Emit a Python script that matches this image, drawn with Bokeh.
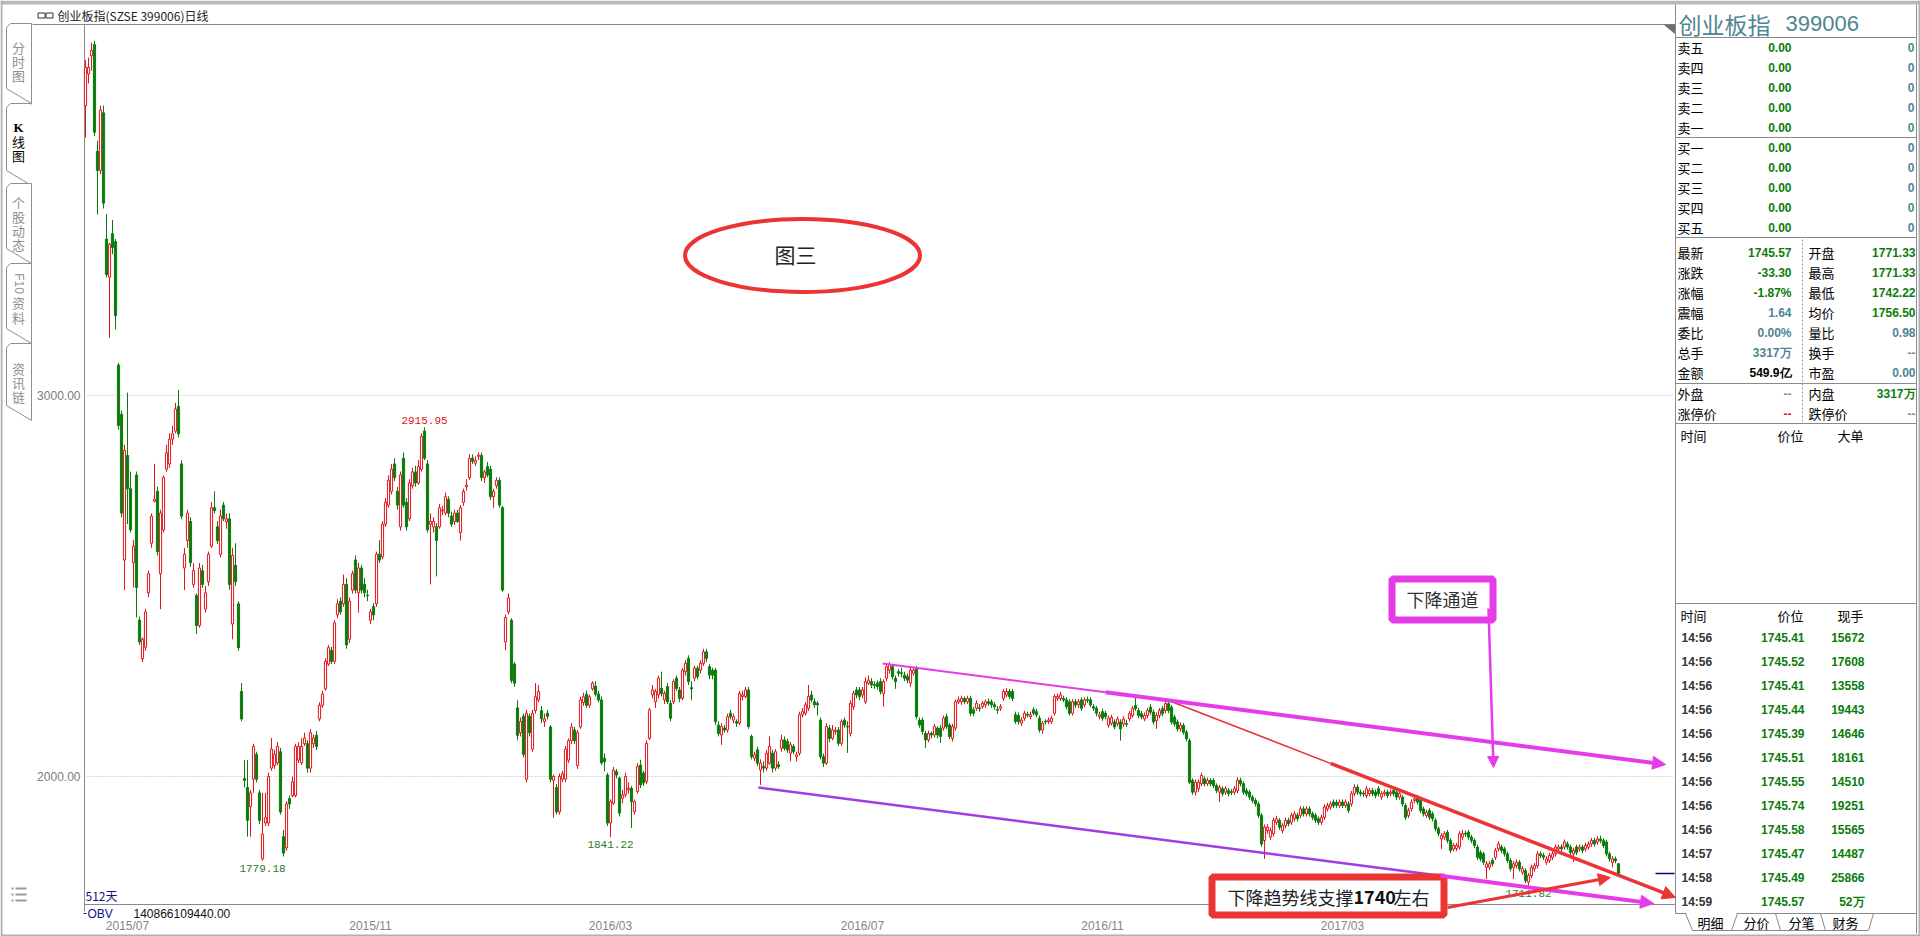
import math
from bokeh.plotting import figure
from bokeh.models import Range1d, ColumnDataSource, Arrow, NormalHead
from bokeh.core.properties import value
from bokeh.embed import file_html
from bokeh.resources import INLINE

# ---------------- daily K-line data (index 0 = first visible day, 512 days) ----------------
opens = [
    3760, 3843, 3891, 3920, 3640, 3590, 3741, 3410, 3310, 3424,
    3403, 3079, 2950, 2568, 2842, 2755, 2561, 2791, 2410, 2309,
    2339, 2482, 2612, 2722, 2748, 2532, 2647, 2806, 2820, 2885,
    2906, 2971, 2820, 2547, 2619, 2669, 2504, 2475, 2396, 2540,
    2439, 2511, 2604, 2705, 2655, 2583, 2712, 2668, 2676, 2400,
    2554, 2453, 2223, 1995, 1971, 1921, 1993, 2058, 1957, 1784,
    1878, 1878, 2022, 2029, 2036, 2065, 1842, 1813, 1942, 1950,
    1950, 2043, 2036, 2086, 2086, 2022, 2086, 2108, 2151, 2187,
    2230, 2295, 2331, 2302, 2424, 2460, 2453, 2504, 2360, 2489,
    2568, 2482, 2547, 2504, 2476, 2410, 2446, 2453, 2583, 2576,
    2662, 2712, 2748, 2820, 2748, 2655, 2835, 2719, 2676, 2763,
    2799, 2770, 2806, 2906, 2820, 2662, 2655, 2655, 2655, 2697,
    2691, 2727, 2683, 2669, 2691, 2640, 2719, 2760, 2784, 2835,
    2822, 2840, 2842, 2784, 2813, 2806, 2734, 2763, 2777, 2705,
    2353, 2432, 2410, 2295, 2180, 2115, 2158, 1993, 2158, 2072,
    2173, 2201, 2173, 2144, 2166, 2130, 1990, 1971, 1907, 1993,
    1993, 2043, 2094, 2122, 2029, 2130, 2194, 2216, 2187, 2230,
    2237, 2216, 2201, 2048, 2004, 1878, 1930, 2013, 1996, 1943,
    1952, 1965, 1969, 1908, 1961, 2030, 2009, 1987, 2100, 2214,
    2196, 2214, 2231, 2201, 2236, 2192, 2196, 2258, 2227, 2205,
    2275, 2310, 2233, 2258, 2284, 2279, 2297, 2327, 2288, 2279,
    2279, 2135, 2109, 2127, 2122, 2166, 2148, 2144, 2140, 2210,
    2210, 2227, 2105, 2048, 2070, 2017, 2026, 2022, 2035, 2061,
    2022, 2031, 2074, 2096, 2092, 2061, 2079, 2052, 2061, 2162,
    2166, 2179, 2214, 2196, 2192, 2148, 2052, 2035, 2127, 2100,
    2118, 2122, 2087, 2148, 2132, 2113, 2183, 2227, 2227, 2214,
    2196, 2245, 2249, 2241, 2245, 2249, 2218, 2258, 2279, 2288,
    2258, 2275, 2272, 2266, 2262, 2245, 2271, 2284, 2148, 2148,
    2113, 2096, 2113, 2109, 2127, 2127, 2127, 2157, 2135, 2100,
    2127, 2196, 2196, 2205, 2196, 2205, 2175, 2179, 2180, 2183,
    2188, 2196, 2196, 2188, 2176, 2179, 2205, 2214, 2223, 2223,
    2162, 2160, 2140, 2153, 2163, 2157, 2175, 2170, 2153, 2122,
    2145, 2144, 2144, 2166, 2205, 2205, 2205, 2201, 2196, 2166,
    2196, 2188, 2201, 2188, 2202, 2201, 2183, 2179, 2157, 2170,
    2166, 2135, 2140, 2143, 2138, 2143, 2138, 2139, 2151, 2160,
    2186, 2173, 2165, 2151, 2160, 2182, 2169, 2147, 2160, 2178,
    2173, 2191, 2182, 2156, 2143, 2125, 2134, 2116, 2094, 1990,
    1959, 1968, 1981, 1994, 1981, 1990, 1990, 1976, 1959, 1968,
    1959, 1963, 1960, 1959, 1963, 1990, 1981, 1963, 1959, 1946,
    1937, 1928, 1898, 1832, 1858, 1841, 1850, 1880, 1885, 1858,
    1871, 1885, 1880, 1889, 1898, 1898, 1915, 1902, 1915, 1902,
    1898, 1889, 1880, 1893, 1915, 1920, 1933, 1932, 1924, 1933,
    1924, 1928, 1928, 1955, 1972, 1959, 1956, 1950, 1955, 1963,
    1959, 1968, 1946, 1955, 1959, 1955, 1963, 1959, 1946, 1946,
    1924, 1898, 1915, 1937, 1946, 1937, 1915, 1898, 1911, 1902,
    1885, 1863, 1836, 1841, 1854, 1832, 1810, 1811, 1815, 1841,
    1851, 1854, 1841, 1832, 1815, 1801, 1797, 1762, 1762, 1780,
    1788, 1810, 1815, 1810, 1797, 1780, 1762, 1766, 1775, 1749,
    1753, 1723, 1740, 1758, 1766, 1797, 1793, 1775, 1780, 1788,
    1797, 1810, 1815, 1815, 1823, 1815, 1797, 1815, 1810, 1815,
    1810, 1815, 1823, 1832, 1828, 1836, 1832, 1828, 1797, 1775,
    1784, 1771.33]

highs = [
    3880, 3886, 3925, 3930, 3668, 3760, 3760, 3475, 3400, 3460,
    3410, 3085, 2960, 2870, 3007, 2800, 2620, 2800, 2420, 2365,
    2440, 2540, 2690, 2820, 2760, 2700, 2790, 2870, 2900, 2920,
    2980, 3014, 2830, 2600, 2700, 2680, 2560, 2480, 2560, 2555,
    2500, 2590, 2720, 2748, 2670, 2700, 2720, 2690, 2690, 2600,
    2612, 2460, 2245, 2043, 2043, 1965, 2086, 2065, 1965, 1957,
    1957, 2010, 2101, 2070, 2090, 2075, 1860, 1935, 1950, 2000,
    2086, 2090, 2100, 2115, 2095, 2125, 2110, 2120, 2195, 2225,
    2310, 2345, 2340, 2410, 2465, 2470, 2530, 2520, 2470, 2540,
    2580, 2560, 2555, 2520, 2490, 2440, 2455, 2590, 2620, 2670,
    2730, 2790, 2820, 2835, 2760, 2800, 2850, 2730, 2780, 2810,
    2815, 2830, 2900, 2915.95, 2830, 2690, 2680, 2665, 2715, 2710,
    2745, 2735, 2695, 2700, 2700, 2712, 2755, 2780, 2845, 2845,
    2840, 2850, 2850, 2805, 2825, 2815, 2755, 2785, 2785, 2710,
    2425, 2480, 2415, 2300, 2200, 2155, 2165, 2175, 2165, 2175,
    2245, 2240, 2185, 2165, 2175, 2135, 2005, 1980, 2008, 2015,
    2080, 2100, 2140, 2130, 2122, 2210, 2220, 2225, 2215, 2250,
    2250, 2225, 2210, 2061, 2010, 1940, 2025, 2020, 2000, 1965,
    2010, 1985, 1975, 1940, 2035, 2044, 2015, 2095, 2180, 2240,
    2230, 2265, 2275, 2225, 2245, 2200, 2255, 2265, 2235, 2285,
    2305, 2318, 2250, 2290, 2290, 2305, 2335, 2335, 2295, 2285,
    2285, 2145, 2140, 2135, 2165, 2175, 2165, 2150, 2225, 2225,
    2235, 2235, 2110, 2065, 2078, 2045, 2040, 2070, 2105, 2070,
    2072, 2040, 2110, 2105, 2100, 2090, 2085, 2065, 2170, 2180,
    2195, 2240, 2225, 2205, 2198, 2155, 2060, 2140, 2135, 2135,
    2130, 2130, 2150, 2155, 2145, 2200, 2225, 2235, 2235, 2235,
    2260, 2265, 2258, 2250, 2252, 2258, 2255, 2295, 2300, 2295,
    2265, 2282, 2285, 2275, 2270, 2285, 2288, 2290, 2155, 2155,
    2120, 2120, 2118, 2138, 2132, 2135, 2160, 2165, 2140, 2138,
    2202, 2210, 2212, 2210, 2212, 2212, 2182, 2200, 2190, 2198,
    2202, 2205, 2202, 2195, 2185, 2190, 2230, 2232, 2230, 2230,
    2170, 2168, 2155, 2172, 2170, 2170, 2182, 2178, 2160, 2146,
    2150, 2155, 2160, 2216, 2218, 2222, 2212, 2208, 2203, 2203,
    2203, 2203, 2208, 2208, 2210, 2208, 2190, 2185, 2170, 2178,
    2172, 2160, 2162, 2150, 2158, 2150, 2158, 2148, 2172, 2185,
    2208, 2180, 2172, 2168, 2180, 2190, 2176, 2168, 2180, 2185,
    2198, 2200, 2188, 2162, 2150, 2142, 2140, 2122, 2100, 1995,
    1992, 1992, 2010, 2000, 1997, 1996, 1996, 1982, 1978, 1974,
    1975, 1970, 1967, 1975, 1998, 1997, 1987, 1970, 1965, 1952,
    1943, 1934, 1904, 1874, 1875, 1866, 1892, 1897, 1891, 1878,
    1892, 1892, 1905, 1909, 1905, 1922, 1922, 1922, 1922, 1908,
    1904, 1895, 1900, 1927, 1931, 1935, 1940, 1939, 1940, 1940,
    1940, 1935, 1962, 1980, 1979, 1966, 1963, 1975, 1970, 1970,
    1966, 1975, 1962, 1966, 1966, 1966, 1970, 1966, 1962, 1952,
    1930, 1918, 1940, 1948, 1952, 1943, 1921, 1913, 1917, 1908,
    1891, 1869, 1852, 1857, 1860, 1838, 1826, 1826, 1857, 1860,
    1858, 1860, 1847, 1838, 1821, 1807, 1803, 1778, 1778, 1786,
    1813, 1830, 1821, 1816, 1803, 1786, 1778, 1782, 1781, 1765,
    1759, 1747, 1769, 1773, 1804, 1804, 1800, 1791, 1800, 1804,
    1822, 1822, 1822, 1835, 1830, 1821, 1813, 1821, 1822, 1821,
    1826, 1830, 1839, 1839, 1843, 1845, 1838, 1834, 1803, 1791,
    1790, 1771.33]

lows = [
    3676, 3818, 3852, 3680, 3474, 3580, 3490, 3309, 3151, 3370,
    3173, 2910, 2680, 2489, 2662, 2640, 2496, 2417, 2345, 2300,
    2330, 2470, 2600, 2719, 2580, 2439, 2640, 2800, 2810, 2870,
    2900, 2890, 2675, 2489, 2600, 2550, 2495, 2374, 2390, 2495,
    2430, 2500, 2600, 2690, 2610, 2575, 2670, 2650, 2490, 2360,
    2500, 2330, 2145, 1971, 1842, 1842, 1957, 1985, 1875, 1779.18,
    1870, 1870, 2015, 2020, 2030, 1900, 1790, 1805, 1915, 1945,
    1945, 2035, 2030, 2080, 2010, 2010, 2075, 2070, 2145, 2180,
    2225, 2290, 2295, 2295, 2415, 2425, 2445, 2335, 2350, 2480,
    2480, 2430, 2480, 2470, 2460, 2400, 2410, 2445, 2560, 2570,
    2655, 2705, 2740, 2775, 2700, 2645, 2705, 2645, 2670, 2755,
    2760, 2765, 2800, 2830, 2640, 2504, 2640, 2525, 2650, 2685,
    2685, 2680, 2655, 2660, 2665, 2619, 2710, 2750, 2778, 2820,
    2815, 2830, 2775, 2770, 2785, 2725, 2705, 2755, 2705, 2485,
    2331, 2425, 2245, 2235, 2095, 2105, 2050, 1985, 2105, 2065,
    2165, 2195, 2140, 2130, 2150, 1985, 1892, 1900, 1900, 1985,
    1985, 2035, 2085, 2085, 2020, 2125, 2185, 2180, 2180, 2225,
    2210, 2195, 2030, 2013, 1870, 1841.22, 1925, 1995, 1895, 1930,
    1945, 1955, 1865, 1900, 1955, 1970, 1975, 1980, 2095, 2205,
    2180, 2205, 2210, 2190, 2190, 2145, 2190, 2225, 2195, 2200,
    2265, 2240, 2200, 2250, 2255, 2270, 2290, 2300, 2255, 2255,
    2135, 2105, 2083, 2115, 2115, 2150, 2140, 2130, 2135, 2200,
    2205, 2125, 2045, 2040, 2028, 1978, 2010, 2015, 2030, 2010,
    2015, 2020, 2065, 2068, 2062, 2040, 2058, 2040, 2055, 2155,
    2160, 2172, 2195, 2180, 2160, 2045, 2025, 2030, 2090, 2095,
    2110, 2080, 2080, 2128, 2062, 2105, 2175, 2205, 2200, 2205,
    2190, 2240, 2232, 2230, 2228, 2215, 2183, 2250, 2270, 2255,
    2230, 2262, 2260, 2250, 2245, 2235, 2265, 2150, 2128, 2110,
    2075, 2090, 2100, 2102, 2100, 2088, 2120, 2125, 2098, 2092,
    2120, 2190, 2188, 2190, 2190, 2158, 2158, 2172, 2170, 2178,
    2180, 2185, 2180, 2175, 2165, 2172, 2198, 2208, 2203, 2198,
    2138, 2136, 2132, 2146, 2155, 2150, 2160, 2155, 2115, 2112,
    2136, 2138, 2138, 2160, 2198, 2198, 2195, 2176, 2160, 2160,
    2180, 2180, 2172, 2182, 2193, 2182, 2172, 2158, 2150, 2146,
    2150, 2128, 2134, 2124, 2132, 2094, 2130, 2130, 2145, 2154,
    2172, 2153, 2150, 2145, 2153, 2162, 2136, 2125, 2153, 2158,
    2166, 2166, 2136, 2131, 2118, 2118, 2110, 2092, 1980, 1952,
    1950, 1960, 1975, 1974, 1975, 1974, 1970, 1956, 1933, 1948,
    1952, 1948, 1951, 1952, 1956, 1974, 1952, 1948, 1939, 1930,
    1921, 1891, 1816, 1784, 1850, 1834, 1843, 1873, 1860, 1851,
    1864, 1869, 1873, 1882, 1882, 1891, 1895, 1895, 1895, 1886,
    1878, 1873, 1873, 1886, 1908, 1913, 1917, 1918, 1917, 1917,
    1917, 1904, 1921, 1948, 1952, 1948, 1947, 1943, 1948, 1948,
    1943, 1948, 1939, 1948, 1943, 1948, 1948, 1939, 1939, 1921,
    1886, 1891, 1908, 1930, 1926, 1904, 1895, 1891, 1886, 1882,
    1856, 1843, 1810, 1834, 1825, 1799, 1803, 1804, 1808, 1834,
    1842, 1834, 1825, 1812, 1781, 1777, 1768, 1731, 1755, 1764,
    1781, 1803, 1799, 1790, 1773, 1751, 1731, 1759, 1751, 1742,
    1720, 1711.82, 1733, 1751, 1759, 1786, 1781, 1768, 1773, 1781,
    1790, 1803, 1803, 1808, 1808, 1794, 1776, 1794, 1803, 1799,
    1803, 1808, 1816, 1816, 1821, 1825, 1812, 1790, 1777, 1762,
    1772, 1742.22]

closes = [
    3860, 3860, 3905, 3690, 3590, 3748, 3504, 3317, 3396, 3388,
    3209, 2921, 2691, 2856, 2755, 2647, 2604, 2496, 2353, 2360,
    2432, 2532, 2683, 2727, 2590, 2691, 2784, 2849, 2885, 2899,
    2964, 2899, 2683, 2583, 2691, 2561, 2540, 2396, 2547, 2504,
    2482, 2583, 2705, 2698, 2619, 2683, 2676, 2676, 2504, 2580,
    2511, 2338, 2151, 1990, 1885, 1957, 2079, 1993, 1885, 1849,
    1892, 2000, 2072, 2058, 2079, 1907, 1799, 1928, 1928, 1986,
    2079, 2079, 2079, 2101, 2022, 2115, 2101, 2079, 2187, 2216,
    2302, 2338, 2302, 2403, 2453, 2432, 2504, 2345, 2460, 2532,
    2489, 2547, 2489, 2482, 2474, 2432, 2424, 2583, 2568, 2662,
    2719, 2777, 2806, 2784, 2712, 2791, 2712, 2655, 2770, 2799,
    2770, 2813, 2892, 2835, 2647, 2669, 2669, 2619, 2705, 2699,
    2734, 2691, 2662, 2691, 2669, 2705, 2748, 2764, 2835, 2827,
    2829, 2843, 2784, 2799, 2791, 2734, 2748, 2777, 2712, 2489,
    2417, 2468, 2252, 2245, 2108, 2144, 2058, 2166, 2115, 2166,
    2209, 2223, 2151, 2151, 2158, 1993, 2000, 1907, 2000, 2007,
    2072, 2094, 2130, 2094, 2115, 2201, 2209, 2187, 2209, 2245,
    2216, 2201, 2036, 2039, 1878, 1934, 2017, 2004, 1904, 1952,
    2000, 1969, 1934, 1934, 2026, 1978, 1983, 2087, 2175, 2227,
    2223, 2258, 2218, 2218, 2196, 2153, 2249, 2231, 2205, 2279,
    2297, 2249, 2230, 2284, 2262, 2297, 2327, 2310, 2266, 2266,
    2144, 2113, 2131, 2122, 2157, 2157, 2157, 2140, 2218, 2214,
    2227, 2131, 2052, 2057, 2035, 2035, 2022, 2061, 2079, 2022,
    2065, 2026, 2096, 2074, 2070, 2083, 2065, 2057, 2162, 2170,
    2188, 2210, 2201, 2188, 2188, 2052, 2035, 2131, 2100, 2122,
    2122, 2087, 2144, 2135, 2130, 2192, 2218, 2214, 2210, 2227,
    2249, 2253, 2240, 2239, 2236, 2223, 2249, 2288, 2293, 2262,
    2249, 2271, 2270, 2258, 2253, 2279, 2279, 2157, 2135, 2118,
    2096, 2113, 2109, 2131, 2109, 2105, 2153, 2131, 2105, 2131,
    2196, 2201, 2205, 2196, 2205, 2166, 2166, 2192, 2178, 2192,
    2196, 2192, 2188, 2183, 2174, 2183, 2223, 2223, 2210, 2205,
    2144, 2144, 2148, 2166, 2161, 2162, 2166, 2162, 2122, 2140,
    2143, 2148, 2153, 2210, 2210, 2214, 2201, 2183, 2166, 2196,
    2188, 2196, 2179, 2201, 2200, 2188, 2179, 2166, 2162, 2153,
    2157, 2153, 2155, 2130, 2151, 2125, 2151, 2137, 2165, 2178,
    2178, 2160, 2156, 2160, 2173, 2169, 2143, 2160, 2173, 2165,
    2191, 2173, 2143, 2138, 2125, 2134, 2116, 2099, 1985, 1959,
    1985, 1985, 2003, 1981, 1990, 1981, 1976, 1963, 1972, 1955,
    1968, 1955, 1958, 1968, 1990, 1981, 1959, 1955, 1946, 1937,
    1928, 1898, 1823, 1867, 1867, 1858, 1885, 1889, 1867, 1871,
    1885, 1876, 1898, 1902, 1889, 1915, 1902, 1915, 1902, 1893,
    1885, 1880, 1893, 1920, 1924, 1928, 1924, 1925, 1933, 1924,
    1933, 1911, 1955, 1972, 1959, 1955, 1954, 1968, 1963, 1955,
    1950, 1955, 1955, 1959, 1950, 1959, 1955, 1946, 1955, 1928,
    1893, 1911, 1933, 1941, 1933, 1911, 1902, 1906, 1893, 1889,
    1863, 1850, 1845, 1850, 1832, 1806, 1819, 1819, 1850, 1850,
    1849, 1841, 1832, 1819, 1788, 1784, 1775, 1771, 1771, 1771,
    1806, 1823, 1806, 1797, 1780, 1758, 1771, 1775, 1758, 1758,
    1727, 1740, 1762, 1766, 1797, 1793, 1788, 1784, 1793, 1797,
    1815, 1815, 1810, 1828, 1815, 1801, 1806, 1801, 1815, 1806,
    1819, 1823, 1832, 1823, 1836, 1832, 1819, 1797, 1784, 1784,
    1778.87, 1745.57]

month_labels = ["2015/07", "2015/11", "2016/03", "2016/07", "2016/11", "2017/03"]
month_index = [14, 95, 175, 259, 339, 419]
price_ticks = [3000, 2000]

# quote panel
book_labels = ["卖五", "卖四", "卖三", "卖二", "卖一", "买一", "买二", "买三", "买四", "买五"]
book_prices = ["0.00"] * 10
book_vols = ["0"] * 10
stat_left_labels = ["最新", "涨跌", "涨幅", "震幅", "委比", "总手", "金额"]
stat_left_values = ["1745.57", "-33.30", "-1.87%", "1.64", "0.00%", "3317万", "549.9亿"]
stat_right_labels = ["开盘", "最高", "最低", "均价", "量比", "换手", "市盈"]
stat_right_values = ["1771.33", "1771.33", "1742.22", "1756.50", "0.98", "--", "0.00"]
trade_times = ["14:56"] * 9 + ["14:57", "14:58", "14:59"]
trade_prices = ["1745.41", "1745.52", "1745.41", "1745.44", "1745.39", "1745.51",
                "1745.55", "1745.74", "1745.58", "1745.47", "1745.49", "1745.57"]
trade_vols = ["15672", "17608", "13558", "19443", "14646", "18161",
              "14510", "19251", "15565", "14487", "25866", "52万"]

# ---------------- styling ----------------
RED = "#e3141c"
GREEN = "#0b7c0b"
GRAY = "#8c8c8c"
TEAL = "#4d8590"
CJK = "Noto Sans CJK SC"
SANS = "Liberation Sans"
MONO = "Liberation Mono"

W, H = 1920, 936
p = figure(width=W, height=H,
           x_range=Range1d(-85 / 3, 1835 / 3), y_range=Range1d(1580.3, 4035.7),
           toolbar_location=None, output_backend="svg", min_border=0,
           x_axis_location=None, y_axis_location=None,
           background_fill_color="white", border_fill_color="white",
           outline_line_color=None)
p.xgrid.visible = False
p.ygrid.visible = False
p.grid.grid_line_color = None
p.extra_x_ranges = {"px": Range1d(0, W)}
p.extra_y_ranges = {"py": Range1d(H, 0)}


def T(xs, ys, ss, size=12, color="#000000", align="left", base="middle", font=CJK,
      bold=False, xr="px", yr="py", angle=0.0):
    p.text(x=list(xs), y=list(ys), text=list(ss), x_range_name=xr, y_range_name=yr,
           text_font=value(font), text_font_size=f"{size}px", text_color=color,
           text_align=align, text_baseline=base,
           text_font_style="bold" if bold else "normal", angle=angle)


def L(x0, y0, x1, y1, color=GRAY, w=1.0, dash="solid", xr="px", yr="py"):
    p.segment(x0=list(x0), y0=list(y0), x1=list(x1), y1=list(y1), line_color=color,
              line_width=w, line_dash=dash, x_range_name=xr, y_range_name=yr)


# ---------------- frame / chrome ----------------
p.quad(left=[0], right=[W], top=[0], bottom=[4], fill_color="#b9b9b9", line_color=None,
       x_range_name="px", y_range_name="py")
L([1, W - 1, 0], [0, 0, H - 1], [1, W - 1, W], [H, H, H - 1], color="#b0b0b0", w=2)

# title bar
L([32], [24], [1675], [24], color="#8a8a8a")
p.rect(x=[41, 49], y=[15, 15], width=[7, 7], height=[5, 5], fill_color=None,
       line_color="#333333", line_width=1, x_range_name="px", y_range_name="py")
T([57], [15], ["创业板指(SZSE 399006)日线"], size=12, color="#222222")
p.patch(x=[1663, 1675, 1675], y=[24, 24, 34], fill_color="#6e6e6e", line_color=None,
        x_range_name="px", y_range_name="py")

# left tab strip
tabs = [(23, 88, "分时图", False, [47, 61, 75]),
        (103, 170, "K线图", True, [127, 141, 155]),
        (183, 248, "个股动态", False, [202, 216, 230, 244]),
        (263, 328, "F10资料", False, [283, 302, 317]),
        (343, 405, "资讯链", False, [368, 382, 396])]
for top, bot, name, sel, ys in tabs:
    p.patch(x=[6, 6, 10, 31, 31], y=[bot, top + 4, top, top, bot + 15],
            fill_color="white", line_color="#8e8e8e", line_width=1,
            x_range_name="px", y_range_name="py")
    if sel:
        L([31], [top + 1], [31], [bot + 14], color="white", w=2)
        T([18], [ys[0]], ["K"], size=13, color="#000000", align="center",
          font="Liberation Serif", bold=True)
        T([18, 18], ys[1:], list(name[1:]), size=13, color="#000000", align="center")
    elif name.startswith("F10"):
        T([18], [ys[0]], ["F10"], size=12, color="#909090", align="center",
          font=SANS, angle=-math.pi / 2)
        T([18, 18], ys[1:], list(name[3:]), size=13, color="#909090", align="center")
    else:
        T([18] * len(name), ys, list(name), size=13, color="#909090", align="center")

# menu icon
L([11, 11, 11], [888, 894, 900], [13, 13, 13], [888, 894, 900], color="#9a9a9a", w=2)
L([15, 15, 15], [888, 894, 900], [26, 26, 26], [888, 894, 900], color="#9a9a9a", w=2)

# chart axes lines and grid
L([84], [24], [84], [911], color="#8a8a8a")
L([84], [904], [1675], [904], color="#8a8a8a")
p.segment(x0=[84] * 2, x1=[1673] * 2, y0=price_ticks, y1=price_ticks,
          line_color="#b5b5b5", line_width=1, line_dash="1 2",
          x_range_name="px", y_range_name="default")
T([80] * 2, price_ticks, [f"{v:.2f}" for v in price_ticks], size=12, color="#7c7c7c",
  align="right", font=SANS, xr="px", yr="default")
T(month_index, [925] * len(month_index), month_labels, size=12, color="#858585",
  align="center", font=SANS, xr="default", yr="py")

T([85], [895], ["512天"], size=12, color="#101080")
L([83], [913], [86], [913], color="#101080")
T([87], [913], ["OBV"], size=12, color="#101080", font=SANS)
T([133], [913], ["140866109440.00"], size=12, color="#111111", font=SANS)

# ---------------- candlesticks ----------------
n = len(closes)
idx = list(range(n))
upi = [i for i in idx if closes[i] >= opens[i]]
dni = [i for i in idx if closes[i] < opens[i]]


def cds(ids):
    return ColumnDataSource(dict(
        x=ids,
        top=[max(opens[i], closes[i]) for i in ids],
        bottom=[min(opens[i], closes[i]) for i in ids],
        high=[highs[i] for i in ids],
        low=[lows[i] for i in ids]))


su, sd = cds(upi), cds(dni)
p.segment(x0="x", y0="low", x1="x", y1="high", source=su, line_color=RED, line_width=1)
p.segment(x0="x", y0="low", x1="x", y1="high", source=sd, line_color=GREEN, line_width=1)
p.vbar(x="x", width=0.72, top="top", bottom="bottom", source=su,
       fill_color="white", line_color=RED, line_width=1)
p.vbar(x="x", width=0.72, top="top", bottom="bottom", source=sd,
       fill_color=GREEN, line_color=GREEN, line_width=1)

# extreme labels
hi_i = highs.index(2915.95)
p.text(x=[hi_i], y=[highs[hi_i]], text=[f"{highs[hi_i]:.2f}"], text_font=value(MONO),
       text_font_size="11px", text_color="#e0101a", text_align="center",
       text_baseline="bottom", y_offset=-3)
low_marks = [lows.index(v) for v in (1779.18, 1841.22, 1711.82)]
p.text(x=low_marks, y=[lows[i] for i in low_marks], text=[f"{lows[i]:.2f}" for i in low_marks],
       text_font=value(MONO), text_font_size="11px", text_color="#2a7a2a",
       text_align="center", text_baseline="top", y_offset=4)

# last price marker
p.segment(x0=[1655], x1=[1674], y0=[closes[-1]], y1=[closes[-1]], line_color="#000080",
          line_width=1.5, x_range_name="px", y_range_name="default")

# ---------------- hand-drawn annotations ----------------
MAG = "#e53be8"
PUR = "#a23ce6"
ARED = "#ec3434"
p.line(x=[265.7, 340], y=[2296.5, 2221], line_color=MAG, line_width=2)
p.line(x=[224.3, 451.7], y=[1971.3, 1739.4], line_color=PUR, line_width=2.5)
p.line(x=[359.3, 415], y=[2204.7, 2034.5], line_color=ARED, line_width=1.5)


def arrow(x0, y0, x1, y1, color, w, size=12, xr="default", yr="default"):
    p.add_layout(Arrow(end=NormalHead(size=size, fill_color=color, line_color=color),
                       x_start=x0, y_start=y0, x_end=x1, y_end=y1, line_color=color,
                       line_width=w, x_range_name=xr, y_range_name=yr))


arrow(340, 2221, 526.7, 2031.6, MAG, 4, 13)
arrow(451.7, 1739.4, 522.7, 1667, MAG, 4, 13)
arrow(415, 2034.5, 530, 1682.7, ARED, 3.5, 13)

# ellipse with label
p.ellipse(x=[802], y=[255], width=[235], height=[73], fill_color=None, line_color=ARED,
          line_width=4, x_range_name="px", y_range_name="py")
T([795], [253], ["图三"], size=21, color="#222222", align="center")

# magenta box
p.rect(x=[1442], y=[599], width=[101], height=[41], fill_color="white", line_color=MAG,
       line_width=7, x_range_name="px", y_range_name="py")
T([1442], [598], ["下降通道"], size=18, color="#333333", align="center")
arrow(1488, 608, 1493, 767, MAG, 2.5, 11, "px", "py")

# red box
p.rect(x=[1327.5], y=[895.5], width=[232], height=[38], fill_color="white", line_color=ARED,
       line_width=7, x_range_name="px", y_range_name="py")
T([1227], [896], ["下降趋势线支撑"], size=18, color="#222222")
T([1353], [896], ["1740"], size=18, color="#111111", bold=True)
T([1393], [896], ["左右"], size=18, color="#222222")
arrow(454, 1656.5, 508.3, 1735.2, ARED, 3, 12)

# ---------------- right quote panel ----------------
PX0, PX1 = 1675, 1916
L([PX0, PX1], [4, 4], [PX0, PX1], [913, 933], color="#8a8a8a")
hl = [37, 137, 237, 383, 423, 603, 913]
L([PX0] * len(hl), hl, [PX1] * len(hl), hl, color="#8a8a8a")
L([1802], [239], [1802], [422], color="#9a9a9a", dash="2 2")

T([1678], [23], ["创业板指"], size=23, color=TEAL)
T([1785], [23], ["399006"], size=22, color=TEAL, font=SANS)

bys = [47 + 20 * k for k in range(10)]
T([1677] * 10, bys, book_labels, size=13)
T([1791] * 10, bys, book_prices, size=12, color=GREEN, align="right", font=SANS, bold=True)
T([1914] * 10, bys, book_vols, size=12, color=TEAL, align="right", font=SANS, bold=True)

sys_ = [252 + 20 * k for k in range(7)]
T([1677] * 7, sys_, stat_left_labels, size=13)
T([1808] * 7, sys_, stat_right_labels, size=13)
left_cols = [GREEN, GREEN, GREEN, TEAL, TEAL, TEAL, "#000000"]
right_cols = [GREEN, GREEN, GREEN, GREEN, TEAL, "#888888", TEAL]
T([1791] * 7, sys_, stat_left_values, size=12, color=left_cols, align="right", font=SANS, bold=True)
T([1915] * 7, sys_, stat_right_values, size=12, color=right_cols, align="right", font=SANS, bold=True)
T([1677, 1808, 1677, 1808], [393, 393, 413, 413], ["外盘", "内盘", "涨停价", "跌停价"], size=13)
T([1791, 1915, 1791, 1915], [393, 393, 413, 413], ["--", "3317万", "--", "--"], size=12,
  color=["#888888", GREEN, RED, "#888888"], align="right", font=SANS, bold=True)

T([1680, 1777, 1837], [435] * 3, ["时间", "价位", "大单"], size=13)
T([1680, 1777, 1837], [615] * 3, ["时间", "价位", "现手"], size=13)
tys = [637 + 24 * k for k in range(12)]
T([1681] * 12, tys, trade_times, size=12, color="#333333", font=SANS, bold=True)
T([1804] * 12, tys, trade_prices, size=12, color=GREEN, align="right", font=SANS, bold=True)
T([1864] * 12, tys, trade_vols, size=12, color=GREEN, align="right", font=SANS, bold=True)

# bottom tabs of the quote panel
L([1685, 1692, 1731, 1775, 1820, 1868], [913, 930, 930, 913, 913, 930],
  [1692, 1868, 1737, 1780, 1825, 1873], [930, 930, 913, 930, 930, 913], color="#8a8a8a")
L([1686], [913], [1736], [913], color="white", w=2)
T([1710, 1756, 1801, 1845], [922] * 4, ["明细", "分价", "分笔", "财务"], size=13, align="center")

html = file_html(p, INLINE)
html = html.replace("</head>", "<style>html,body{margin:0;padding:0;overflow:hidden;}</style></head>", 1)
open("out.html", "w").write(html)
